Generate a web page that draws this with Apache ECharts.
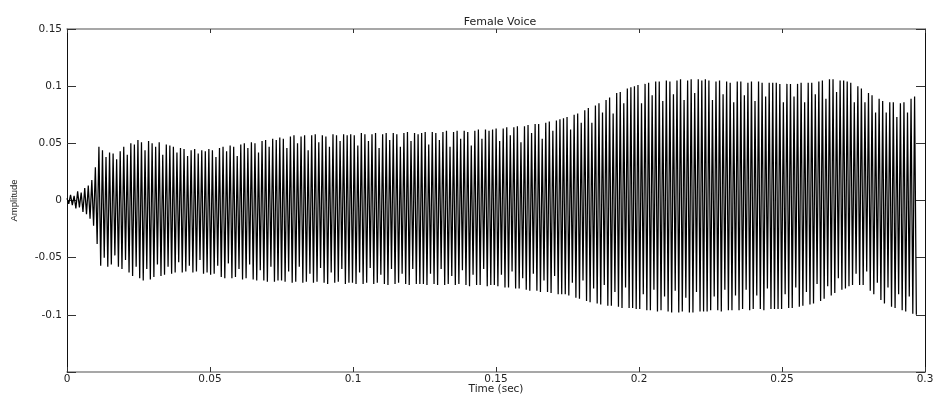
<!DOCTYPE html>
<html>
<head>
<meta charset="utf-8">
<script src="https://cdn.jsdelivr.net/npm/echarts@6/dist/echarts.min.js"></script>
<style>
html,body{margin:0;padding:0;background:#fff;}
#chart{width:935px;height:394px;}
</style>
</head>
<body>
<div id="chart"></div>
<script>
// Time between successive positive peaks of the waveform (seconds)
const cycleStep = 0.00124;

// Positive peak amplitude of each cycle
const upperPeaks = [
  .002,.005,.004,.008,.007,.011,.013,.018,.029,.047,.044,.038,.042,.041,.036,.043,.047,.040,.050,.049,
  .053,.051,.044,.052,.050,.047,.051,.040,.049,.048,.047,.042,.046,.045,.039,.044,.045,.041,.044,.043,
  .045,.044,.038,.046,.047,.043,.048,.047,.039,.049,.050,.046,.051,.050,.042,.052,.053,.047,.054,.053,
  .055,.054,.046,.056,.057,.050,.056,.057,.044,.057,.058,.051,.057,.056,.047,.058,.057,.052,.058,.057,
  .058,.057,.048,.059,.058,.052,.058,.059,.046,.058,.059,.053,.059,.058,.047,.059,.060,.052,.059,.058,
  .059,.060,.049,.060,.059,.053,.060,.061,.047,.060,.061,.054,.061,.060,.048,.061,.062,.054,.062,.061,
  .062,.063,.052,.063,.064,.057,.064,.065,.051,.065,.066,.059,.067,.067,.054,.068,.069,.061,.070,.071,
  .072,.073,.062,.075,.076,.068,.079,.081,.068,.083,.085,.077,.088,.090,.076,.094,.095,.085,.098,.099,
  .100,.101,.085,.102,.103,.092,.104,.104,.087,.105,.104,.093,.105,.106,.088,.105,.106,.094,.106,.105,
  .106,.105,.088,.104,.105,.093,.104,.103,.086,.104,.104,.092,.103,.104,.087,.104,.103,.091,.103,.103,
  .103,.102,.086,.102,.102,.091,.102,.103,.086,.103,.103,.093,.104,.105,.089,.106,.106,.095,.105,.105,
  .104,.103,.086,.100,.098,.086,.094,.092,.077,.089,.087,.077,.086,.086,.073,.085,.086,.077,.089,.091
];

// Negative peak amplitude of each cycle
const lowerPeaks = [
  -.003,-.004,-.007,-.006,-.010,-.012,-.016,-.022,-.038,-.057,-.050,-.058,-.056,-.048,-.058,-.060,-.052,-.063,-.066,-.058,
  -.068,-.070,-.060,-.069,-.067,-.056,-.066,-.065,-.058,-.064,-.063,-.054,-.063,-.062,-.057,-.063,-.062,-.052,-.064,-.063,
  -.065,-.064,-.057,-.067,-.068,-.055,-.068,-.067,-.060,-.069,-.068,-.056,-.069,-.070,-.061,-.070,-.071,-.058,-.071,-.070,
  -.070,-.071,-.062,-.072,-.071,-.058,-.072,-.071,-.064,-.072,-.071,-.059,-.072,-.073,-.063,-.072,-.071,-.060,-.073,-.072,
  -.072,-.073,-.063,-.073,-.072,-.059,-.073,-.072,-.065,-.073,-.074,-.060,-.073,-.072,-.064,-.073,-.074,-.060,-.073,-.073,
  -.073,-.074,-.064,-.073,-.074,-.060,-.074,-.073,-.066,-.074,-.073,-.061,-.074,-.075,-.065,-.074,-.074,-.060,-.075,-.074,
  -.074,-.075,-.065,-.076,-.076,-.062,-.077,-.077,-.068,-.078,-.079,-.064,-.079,-.080,-.070,-.080,-.081,-.066,-.082,-.082,
  -.082,-.083,-.072,-.085,-.086,-.070,-.088,-.089,-.077,-.090,-.091,-.074,-.092,-.092,-.080,-.093,-.094,-.076,-.094,-.094,
  -.095,-.095,-.082,-.096,-.096,-.078,-.097,-.096,-.084,-.097,-.098,-.079,-.098,-.097,-.085,-.098,-.098,-.080,-.097,-.097,
  -.097,-.096,-.084,-.096,-.097,-.078,-.096,-.096,-.083,-.096,-.095,-.078,-.096,-.095,-.083,-.095,-.096,-.077,-.095,-.095,
  -.095,-.095,-.082,-.094,-.094,-.076,-.093,-.092,-.080,-.091,-.090,-.073,-.088,-.086,-.075,-.083,-.081,-.068,-.078,-.077,
  -.075,-.074,-.064,-.074,-.074,-.062,-.079,-.082,-.072,-.087,-.090,-.076,-.093,-.094,-.082,-.096,-.097,-.084,-.099,-.100
];

const titleText = 'Female Voice';
const xAxisName = 'Time (sec)';
const yAxisName = 'Amplitude';

// build [time, amplitude] pairs: positive peak, then negative peak half a cycle later
const wave = [];
for (let i = 0; i < upperPeaks.length; i++) {
  wave.push([i * cycleStep, upperPeaks[i]]);
  wave.push([(i + 0.5) * cycleStep, lowerPeaks[i]]);
}

const FONT = '"DejaVu Sans", Arial, Helvetica, sans-serif';
const NARROW = '"Liberation Sans", Arial, Helvetica, sans-serif';
const chart = echarts.init(document.getElementById('chart'), null, {renderer: 'canvas'});

const tickFmt = v => String(Math.round(v * 1000) / 1000);

chart.setOption({
  animation: false,
  backgroundColor: '#ffffff',
  title: {
    text: titleText,
    left: 495, top: 12, textAlign: 'center',
    textStyle: {fontFamily: FONT, fontSize: 11, fontWeight: 'normal', color: '#222'}
  },
  grid: {left: 67, right: 10, top: 29, bottom: 22, containLabel: false, outerBoundsMode: 'none'},
  xAxis: [
    {
      type: 'value', min: 0, max: 0.3, interval: 0.05, position: 'bottom',
      name: xAxisName, nameLocation: 'middle', nameGap: 12, nameMoveOverlap: false,
      nameTextStyle: {fontFamily: FONT, fontSize: 10.5, color: '#222'},
      axisLine: {show: true, onZero: false, lineStyle: {color: '#8a8a8a', width: 1.5}},
      axisTick: {show: true, inside: true, length: 5, lineStyle: {color: '#333'}},
      axisLabel: {fontFamily: FONT, fontSize: 10.5, color: '#222', margin: 2, formatter: tickFmt, showMinLabel: true, showMaxLabel: true},
      splitLine: {show: false}
    },
    {
      type: 'value', min: 0, max: 0.3, interval: 0.05, position: 'top',
      axisLine: {show: true, onZero: false, lineStyle: {color: '#8a8a8a', width: 1.5}},
      axisTick: {show: true, inside: true, length: 4, lineStyle: {color: '#333'}},
      axisLabel: {show: false},
      splitLine: {show: false}
    }
  ],
  yAxis: [
    {
      type: 'value', min: -0.15, max: 0.15, interval: 0.05, position: 'left',
      name: yAxisName, nameLocation: 'middle', nameGap: 48, nameRotate: 90, nameMoveOverlap: false,
      nameTextStyle: {fontFamily: NARROW, fontSize: 9.5, color: '#222'},
      axisLine: {show: true, onZero: false, lineStyle: {color: '#111', width: 1}},
      axisTick: {show: true, inside: true, length: 9, lineStyle: {color: '#333'}},
      axisLabel: {fontFamily: FONT, fontSize: 10.5, color: '#222', margin: 5,
        formatter: v => (Math.abs(v + 0.15) < 1e-9 ? '' : tickFmt(v))},
      splitLine: {show: false}
    },
    {
      type: 'value', min: -0.15, max: 0.15, interval: 0.05, position: 'right',
      axisLine: {show: true, onZero: false, lineStyle: {color: '#111', width: 1}},
      axisTick: {show: true, inside: true, length: 9, lineStyle: {color: '#333'}},
      axisLabel: {show: false},
      splitLine: {show: false}
    }
  ],
  series: [{
    type: 'line',
    xAxisIndex: 0, yAxisIndex: 0,
    data: wave,
    showSymbol: false,
    symbol: 'none',
    lineStyle: {color: '#000', width: 1.25},
    z: 1
  }]
});
</script>
</body>
</html>
